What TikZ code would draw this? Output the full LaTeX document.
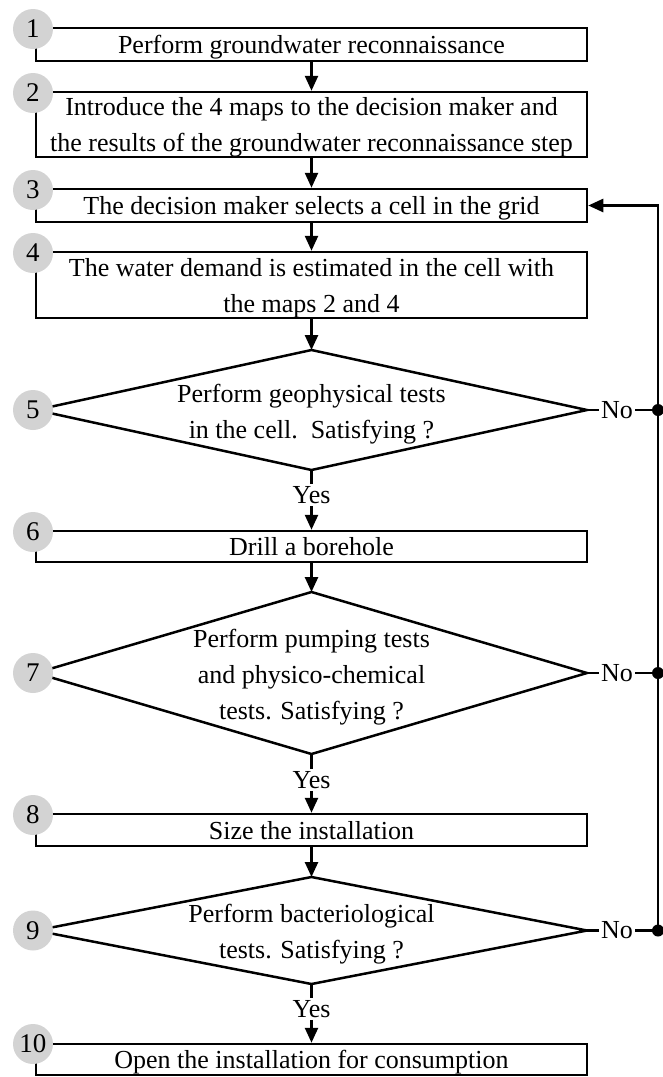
\documentclass[tikz,border=0pt]{standalone}
\usepackage{fontspec}
\setmainfont{Liberation Serif}
\usetikzlibrary{arrows.meta}
\definecolor{circgray}{RGB}{211,211,211}
\begin{document}
\begin{tikzpicture}[x=1pt,y=-1pt,
  txt/.style={font=\fontsize{26}{36}\selectfont},
  box/.style={txt, draw, line width=2.5pt, minimum width=551pt, inner sep=0pt, align=center, text depth=0pt},
  dectext/.style={txt, inner sep=0pt, align=center, text depth=0pt},
  decline/.style={line width=2.5pt, line join=miter},
  num/.style={circle, fill=circgray, minimum size=40pt, inner sep=0pt, font=\fontsize{27}{28}\selectfont},
  lbl/.style={txt, inner sep=2pt},
  dot/.style={circle, fill=black, minimum size=12pt, inner sep=0pt},
  conn/.style={line width=2.5pt},
  arr/.style={line width=2.5pt, -{Triangle[length=15pt,width=13pt]}}
]
\useasboundingbox (0,0) rectangle (663,1077);
% boxes
\node[box, minimum height=33pt] (b1) at (311.5,44.5) {Perform groundwater reconnaissance};
\node[box, minimum height=65pt] (b2) at (311.5,124.5) {Introduce the 4 maps to the decision maker and\\the results of the groundwater reconnaissance step};
\node[box, minimum height=33pt] (b3) at (311.5,205.5) {The decision maker selects a cell in the grid};
\node[box, minimum height=66pt] (b4) at (311.5,285) {The water demand is estimated in the cell with\\the maps 2 and 4};
\node[box, minimum height=31pt] (b6) at (311.5,546.5) {Drill a borehole};
\node[box, minimum height=32pt] (b8) at (311.5,830) {Size the installation};
\node[box, minimum height=31pt] (b10) at (311.5,1059.5) {Open the installation for consumption};
% decisions: text nodes and their tips
\node[dectext] (d5) at (311.5,411) {Perform geophysical tests\\in the cell.\ \ Satisfying ?};
\coordinate (d5n) at (311.5,350); \coordinate (d5s) at (311.5,470);
\coordinate (d5w) at (36,410);    \coordinate (d5e) at (587,410);
\draw[decline] (d5n) -- (d5e) -- (d5s) -- (d5w) -- cycle;
\node[dectext] (d7) at (311.5,674) {Perform pumping tests\\and physico-chemical\\tests. Satisfying ?};
\coordinate (d7n) at (311.5,592); \coordinate (d7s) at (311.5,754);
\coordinate (d7w) at (36,673);    \coordinate (d7e) at (587,673);
\draw[decline] (d7n) -- (d7e) -- (d7s) -- (d7w) -- cycle;
\node[dectext] (d9) at (311.5,931.5) {Perform bacteriological\\tests. Satisfying ?};
\coordinate (d9n) at (311.5,877); \coordinate (d9s) at (311.5,984);
\coordinate (d9w) at (36,930.5);  \coordinate (d9e) at (587,930.5);
\draw[decline] (d9n) -- (d9e) -- (d9s) -- (d9w) -- cycle;
% number circles
\node[num] (c1) at (33,29) {1};
\node[num] (c2) at (33,93) {2};
\node[num] (c3) at (33,190) {3};
\node[num] (c4) at (33,253) {4};
\node[num] (c5) at (33,410) {5};
\node[num] (c6) at (33,532) {6};
\node[num] (c7) at (33,673) {7};
\node[num] (c8) at (33,815) {8};
\node[num] (c9) at (33,930.5) {9};
\node[num] (c10) at (33,1044) {10};
% yes / no labels
\node[lbl] (y5) at (311.5,495) {Yes};
\node[lbl] (y7) at (311.5,780) {Yes};
\node[lbl] (y9) at (311.5,1009) {Yes};
\node[lbl] (n5) at (617,410) {No};
\node[lbl] (n7) at (617,673) {No};
\node[lbl] (n9) at (617,930.5) {No};
\node[dot] (p5) at (658,410) {};
\node[dot] (p7) at (658,673) {};
\node[dot] (p9) at (658,930.5) {};
% main flow
\draw[arr] (b1) -- (b2);
\draw[arr] (b2) -- (b3);
\draw[arr] (b3) -- (b4);
\draw[arr] (b4) -- (d5n);
\draw[conn] (d5s) -- (y5);
\draw[arr] (y5) -- (b6);
\draw[arr] (b6) -- (d7n);
\draw[conn] (d7s) -- (y7);
\draw[arr] (y7) -- (b8);
\draw[arr] (b8) -- (d9n);
\draw[conn] (d9s) -- (y9);
\draw[arr] (y9) -- (b10);
% no branches
\draw[conn] (d5e) -- (n5.west);
\draw[conn] (n5.east) -- (p5.center);
\draw[conn] (d7e) -- (n7.west);
\draw[conn] (n7.east) -- (p7.center);
\draw[conn] (d9e) -- (n9.west);
\draw[conn] (n9.east) -- (p9.center);
\draw[arr] (p9.center) -- (p5.center |- b3.east) -- (b3.east);
\end{tikzpicture}
\end{document}
